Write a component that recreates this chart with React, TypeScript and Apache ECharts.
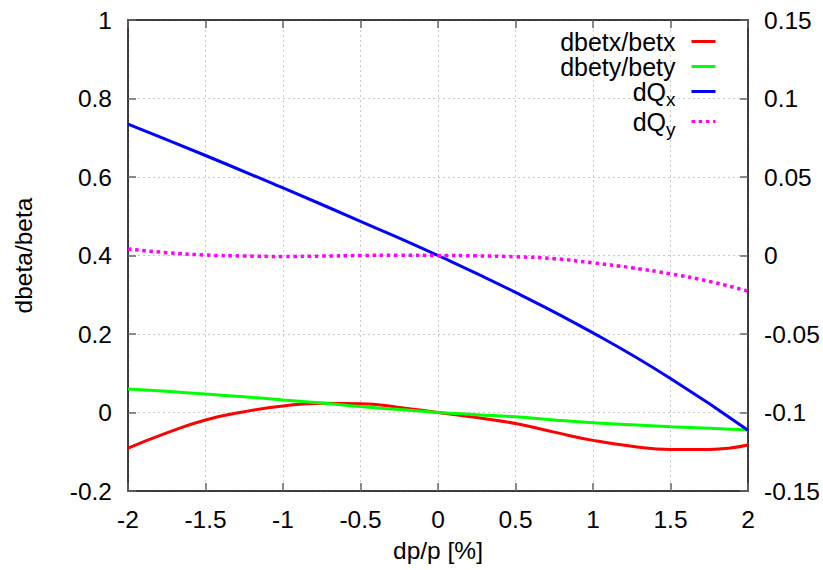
import React, { useEffect, useRef } from "react";
import * as echarts from "echarts";

const dp = [-2, -1.75, -1.5, -1.25, -1, -0.75, -0.5, -0.25, 0, 0.25, 0.5, 0.75, 1, 1.25, 1.5, 1.75, 2];
const dbetx = [-0.091, -0.052, -0.019, 0.002, 0.0166, 0.0235, 0.0225, 0.013, 0, -0.013, -0.028, -0.05, -0.071, -0.086, -0.094, -0.094, -0.083];
const dbety = [0.06, 0.054, 0.047, 0.04, 0.032, 0.024, 0.015, 0.0075, 0, -0.0055, -0.011, -0.019, -0.026, -0.031, -0.036, -0.04, -0.0446];
const dpHalf = [-2, -1.5, -1, -0.5, 0, 0.5, 1, 1.5, 2];
const dQx = [0.0837, 0.0637, 0.043, 0.0218, 0, -0.0235, -0.0493, -0.0783, -0.1113];
const dQy = [0.0042, 0.0018, 0.0003, -0.0003, -0.0006, -0.0004, 0, 0.0002, 0, -0.0002, -0.0008, -0.002, -0.0047, -0.0078, -0.0117, -0.0165, -0.0227];

const FONT = "Liberation Sans, Arial, Helvetica, sans-serif";
const FS = 24.5;
const LFS = 25;

const pairs = (xs: number[], ys: number[]) => xs.map((x, i) => [x, ys[i]]);

export default function App() {
  const ref = useRef<HTMLDivElement>(null);
  useEffect(() => {
    if (!ref.current) return;
    const chart = echarts.init(ref.current, undefined, { renderer: "svg" });
    const tickLine = { show: true, inside: true, length: 8, lineStyle: { color: "#666", width: 1.5 } };
    const axisLine = { show: true, onZero: false, lineStyle: { color: "#000", width: 1.5 } };
    const labelStyle = { color: "#000", fontSize: FS, fontFamily: FONT };
    const grid = { show: true, lineStyle: { color: "#c8c8c8", type: [2, 3], width: 1 } };
    chart.setOption({
      animation: false,
      backgroundColor: "#fff",
      grid: { left: 128, right: 75, top: 20, bottom: 79, containLabel: false },
      legend: {
        orient: "vertical",
        align: "right",
        right: 106,
        top: 29,
        padding: 0,
        itemGap: 0,
        itemWidth: 24,
        itemHeight: 14,
        itemStyle: { opacity: 0 },
        lineStyle: { width: 3 },
        data: ["dbetx/betx", "dbety/bety", "dQx", "dQy"],
        formatter: (name: string) => {
          if (name === "dQx") return "{m|dQ}{s|x}";
          if (name === "dQy") return "{m|dQ}{s|y}";
          return "{m|" + name + "}";
        },
        textStyle: {
          color: "#000",
          fontSize: LFS,
          fontFamily: FONT,
          padding: [0, 11, 0, 0],
          rich: {
            m: { fontSize: LFS, fontFamily: FONT, color: "#000", lineHeight: 25 },
            s: {
              fontSize: 19,
              fontFamily: FONT,
              color: "#000",
              lineHeight: 25,
              verticalAlign: "top",
              padding: [11, 0, 0, 0],
            },
          },
        },
      },
      xAxis: [
        {
          type: "value",
          min: -2,
          max: 2,
          interval: 0.5,
          position: "bottom",
          name: "dp/p [%]",
          nameLocation: "middle",
          nameGap: 47,
          nameTextStyle: { color: "#000", fontSize: FS, fontFamily: FONT },
          axisLine,
          axisTick: tickLine,
          axisLabel: { ...labelStyle, margin: 16 },
          splitLine: grid,
        },
        {
          type: "value",
          min: -2,
          max: 2,
          interval: 0.5,
          position: "top",
          axisLine,
          axisTick: tickLine,
          axisLabel: { show: false },
          splitLine: { show: false },
        },
      ],
      yAxis: [
        {
          type: "value",
          min: -0.2,
          max: 1,
          interval: 0.2,
          position: "left",
          name: "dbeta/beta",
          nameLocation: "middle",
          nameGap: 92,
          nameTextStyle: { color: "#000", fontSize: FS, fontFamily: FONT },
          axisLine,
          axisTick: tickLine,
          axisLabel: { ...labelStyle, margin: 16 },
          splitLine: grid,
        },
        {
          type: "value",
          min: -0.15,
          max: 0.15,
          interval: 0.05,
          position: "right",
          axisLine,
          axisTick: tickLine,
          axisLabel: { ...labelStyle, margin: 16 },
          splitLine: { show: false },
        },
      ],
      series: [
        {
          name: "dbetx/betx",
          type: "line",
          smooth: true,
          symbol: "none",
          yAxisIndex: 0,
          data: pairs(dp, dbetx),
          lineStyle: { color: "#ff0000", width: 3 },
          itemStyle: { color: "#ff0000" },
        },
        {
          name: "dbety/bety",
          type: "line",
          smooth: true,
          symbol: "none",
          yAxisIndex: 0,
          data: pairs(dp, dbety),
          lineStyle: { color: "#00ff00", width: 3 },
          itemStyle: { color: "#00ff00" },
        },
        {
          name: "dQx",
          type: "line",
          smooth: true,
          symbol: "none",
          yAxisIndex: 1,
          data: pairs(dpHalf, dQx),
          lineStyle: { color: "#0000ff", width: 3 },
          itemStyle: { color: "#0000ff" },
        },
        {
          name: "dQy",
          type: "line",
          smooth: true,
          symbol: "none",
          yAxisIndex: 1,
          data: pairs(dp, dQy),
          lineStyle: { color: "#ff00ff", width: 3.5, type: [3.5, 3.7], cap: "butt" },
          itemStyle: { color: "#ff00ff" },
        },
      ],
    });
    return () => chart.dispose();
  }, []);
  return (
    <div
      ref={ref}
      style={{ position: "fixed", left: 0, top: 0, width: 823, height: 570, background: "#fff" }}
    />
  );
}
